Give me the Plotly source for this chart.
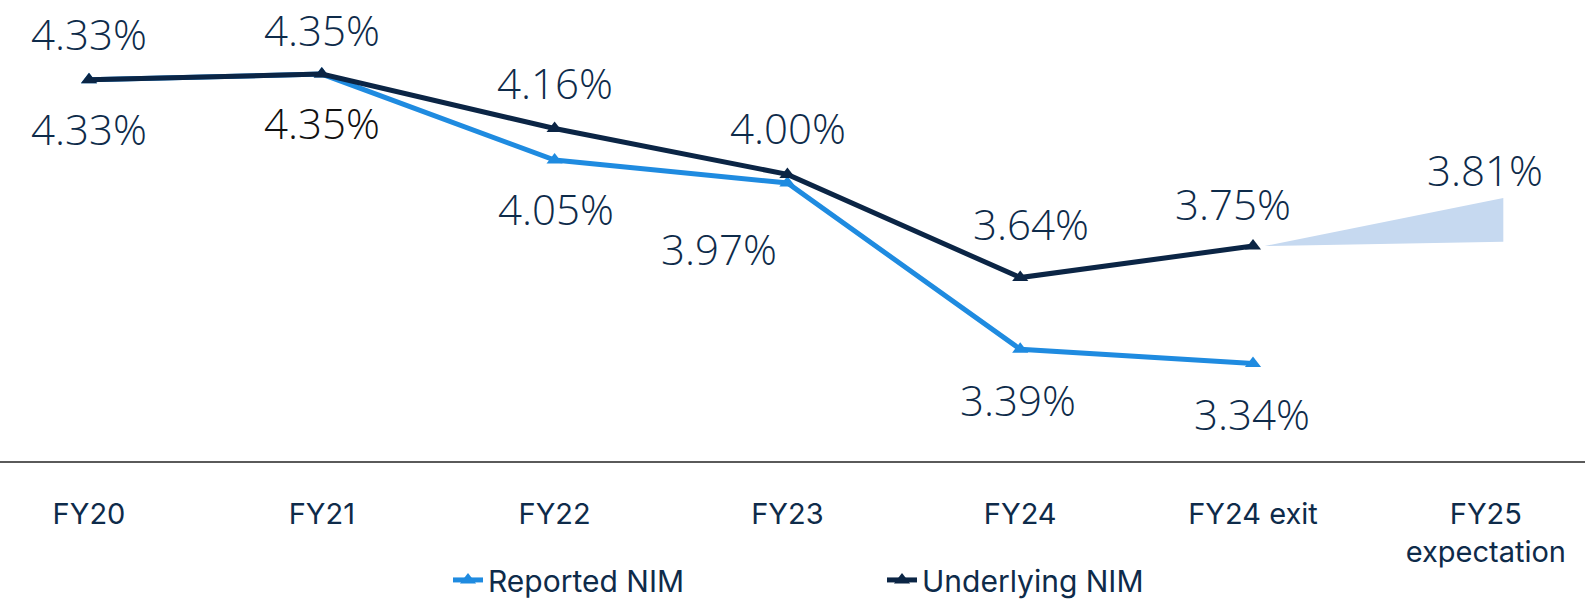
import plotly.graph_objects as go

# ---- data ----
categories = ["FY20", "FY21", "FY22", "FY23", "FY24", "FY24 exit", "FY25<br>expectation"]
reported_nim = [4.33, 4.35, 4.05, 3.97, 3.39, 3.34]
underlying_nim = [4.33, 4.35, 4.16, 4.00, 3.64, 3.75]
fy25_expectation = 3.81
fy25_wedge_range = [3.765, 3.918]  # illustrative wedge extent as drawn

NAVY = "#0B2545"
BLUE = "#1F8BE0"
WEDGE = "#C6D9F0"
TEXT = "#0E2B4A"

xs = list(range(len(categories)))
n = len(reported_nim)

fig = go.Figure()

# FY25 expectation wedge
x_exit = xs[n - 1]
x_fy25 = xs[n]
wx = [x_exit + 0.05, x_fy25 + 0.075, x_fy25 + 0.075, x_exit + 0.05]
wy = [underlying_nim[-1], fy25_wedge_range[0], fy25_wedge_range[1], underlying_nim[-1]]
fig.add_trace(go.Scatter(x=wx, y=wy, fill="toself", fillcolor=WEDGE, mode="lines",
                         line=dict(width=0, color=WEDGE), showlegend=False, hoverinfo="skip"))

fig.add_trace(go.Scatter(x=xs[:n], y=reported_nim, mode="lines+markers", name="Reported NIM",
                         line=dict(color=BLUE, width=5),
                         marker=dict(symbol="triangle-up", size=14, color=BLUE)))
fig.add_trace(go.Scatter(x=xs[:n], y=underlying_nim, mode="lines+markers", name="Underlying NIM",
                         line=dict(color=NAVY, width=5),
                         marker=dict(symbol="triangle-up", size=14, color=NAVY)))

LBL_FAMILY = "Open Sans"
LBL_SIZE = 42
label_font = dict(family=LBL_FAMILY, size=LBL_SIZE, color=TEXT, weight=300)

# label offsets in pixels (xshift, yshift)
und_off = [(0, 46), (0, 45), (0, 46), (1, 47), (11, 54), (-20, 43)]
rep_off = [(0, -49), (0, -48), (1, -48), (-68, -66), (-2, -50), (-1, -50)]

for i in range(n):
    fig.add_annotation(x=xs[i], y=underlying_nim[i], text=f"{underlying_nim[i]:.2f}%",
                       showarrow=False, xshift=und_off[i][0], yshift=und_off[i][1],
                       font=label_font, xanchor="center", yanchor="middle")
    col = "#111111" if i == 1 else TEXT
    fig.add_annotation(x=xs[i], y=reported_nim[i], text=f"{reported_nim[i]:.2f}%",
                       showarrow=False, xshift=rep_off[i][0], yshift=rep_off[i][1],
                       font=dict(family=LBL_FAMILY, size=LBL_SIZE, color=col, weight=300),
                       xanchor="center", yanchor="middle")

fig.add_annotation(x=x_fy25 + 0.075, y=fy25_wedge_range[1], text=f"{fy25_expectation:.2f}%",
                   showarrow=False, xshift=-18, yshift=28, font=label_font,
                   xanchor="center", yanchor="middle")

fig.update_layout(
    width=1585, height=606,
    margin=dict(l=0, r=0, t=0, b=141),
    paper_bgcolor="white", plot_bgcolor="white",
    font=dict(family="Inter", size=29, color=TEXT),
    showlegend=True,
    legend=dict(orientation="h", x=448 / 1585, xanchor="left", y=-0.258, yanchor="middle",
                entrywidth=389, entrywidthmode="pixels", font=dict(size=30, color=TEXT),
                bgcolor="rgba(0,0,0,0)", itemwidth=30),
    xaxis=dict(range=[-0.3823, 6.426], tickvals=xs, ticktext=categories,
               showgrid=False, zeroline=False, showline=True, linecolor="#5A5A5A", linewidth=2,
               ticks="outside", ticklen=0, ticklabelstandoff=26,
               tickfont=dict(family="Inter", size=29, color=TEXT)),
    yaxis=dict(range=[3.0, 3.0 + 465 / 289.1], visible=False, showgrid=False, zeroline=False),
)

fig.write_html("out.html", config={"displayModeBar": False},
               post_script="document.body.style.margin='0px';")
